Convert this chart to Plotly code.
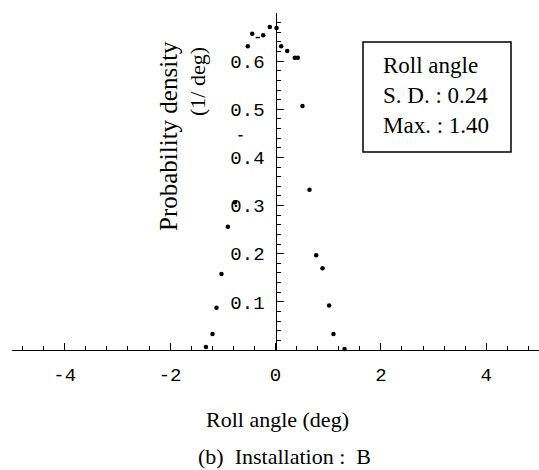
import plotly.graph_objects as go

# Data
roll_angle = [-1.44, -1.32, -1.195, -1.12, -1.025, -0.905, -0.77, -0.526, -0.442,
              -0.233, -0.108, 0.02, 0.108, 0.222, 0.366, 0.423, 0.512, 0.645,
              0.772, 0.892, 1.018, 1.10, 1.31, 1.43]
density = [-0.004, 0.006, 0.033, 0.088, 0.158, 0.256, 0.307, 0.631, 0.657,
           0.654, 0.671, 0.669, 0.631, 0.621, 0.607, 0.607, 0.507, 0.333,
           0.197, 0.170, 0.0925, 0.033, 0.002, -0.004]
# points that are printed only partially (small dashes) in the original
faint_angle = [-0.664, -0.336]
faint_density = [0.445, 0.649]

x_ticks = [-4, -2, 0, 2, 4]
x_tick_labels = ["-4", "-2", "0", "2", "4"]
y_ticks = [0.1, 0.2, 0.3, 0.4, 0.5, 0.6]
y_tick_labels = ["0.1", "0.2", "0.3", "0.4", "0.5", "0.6"]

stats_lines = ["Roll angle", "S. D. : 0.24", "Max. : 1.40"]

SERIF = "Liberation Serif, Times New Roman, serif"
MONO = "Liberation Mono, Courier New, monospace"

# plot area in pixels (for placing annotations)
L, R_, T, B = 12, 0, 13, 120
W, H = 539, 470
PW, PH = W - L - R_, H - T - B


def px(xp):
    return (xp - L) / PW


def py(yp):
    return (H - B - yp) / PH


fig = go.Figure()
fig.add_trace(go.Scatter(
    x=roll_angle, y=density, mode="markers",
    marker=dict(color="black", size=4.5),
    cliponaxis=False, showlegend=False,
))
fig.add_trace(go.Scatter(
    x=faint_angle, y=faint_density, mode="markers",
    marker=dict(color="black", size=3, symbol="line-ew", line=dict(width=1.5, color="black")),
    cliponaxis=False, showlegend=False,
))

fig.update_layout(
    width=W, height=H,
    margin=dict(l=L, r=R_, t=T, b=B),
    paper_bgcolor="white", plot_bgcolor="white",
    xaxis=dict(
        range=[-5, 5], showline=True, linecolor="black", linewidth=1.3,
        ticks="inside", ticklen=7, tickwidth=1.3, tickcolor="black",
        tickmode="array", tickvals=x_ticks, ticktext=x_tick_labels,
        tickfont=dict(family=MONO, size=19, color="black"),
        ticklabelstandoff=7,
        showgrid=False, zeroline=False,
        minor=dict(ticks="inside", ticklen=4, tickwidth=1.3, tickcolor="black",
                   tickmode="linear", tick0=0, dtick=0.4, showgrid=False),
    ),
    yaxis=dict(
        range=[0, 0.7], anchor="free", position=0.5, side="left",
        showline=True, linecolor="black", linewidth=1.3,
        ticks="inside", ticklen=7, tickwidth=1.3, tickcolor="black",
        tickmode="array", tickvals=y_ticks, ticktext=y_tick_labels,
        tickfont=dict(family=MONO, size=19, color="black"),
        ticklabelstandoff=7,
        showgrid=False, zeroline=False,
        minor=dict(ticks="inside", ticklen=4, tickwidth=1.3, tickcolor="black",
                   tickmode="linear", tick0=0, dtick=0.02, showgrid=False),
    ),
)

# y-axis title (two lines)
fig.add_annotation(text="Probability density", textangle=-90, showarrow=False,
                   xref="paper", yref="paper", x=px(168), y=py(136),
                   xanchor="center", yanchor="middle",
                   font=dict(family=SERIF, size=25, color="black"))
fig.add_annotation(text="(1/ deg)", textangle=-90, showarrow=False,
                   xref="paper", yref="paper", x=px(198), y=py(82),
                   xanchor="center", yanchor="middle",
                   font=dict(family=SERIF, size=22, color="black"))

# x-axis title
fig.add_annotation(text="Roll angle (deg)", showarrow=False,
                   xref="paper", yref="paper", x=px(277), y=py(419),
                   xanchor="center", yanchor="middle",
                   font=dict(family=SERIF, size=22, color="black"))

# statistics box
fig.add_shape(type="rect", xref="paper", yref="paper",
              x0=px(363), x1=px(511), y0=py(152), y1=py(42),
              line=dict(color="black", width=1.5), fillcolor="white", layer="above")
fig.add_annotation(text="<br>".join(stats_lines), showarrow=False, align="left",
                   xref="paper", yref="paper", x=px(381), y=py(96),
                   xanchor="left", yanchor="middle",
                   font=dict(family=SERIF, size=23, color="black"))

# caption
fig.add_annotation(text="(b)\u00a0\u00a0Installation :\u00a0\u00a0B", showarrow=False,
                   xref="paper", yref="paper", x=px(284), y=py(456),
                   xanchor="center", yanchor="middle",
                   font=dict(family=SERIF, size=22, color="black"))

fig.write_html("out.html")
